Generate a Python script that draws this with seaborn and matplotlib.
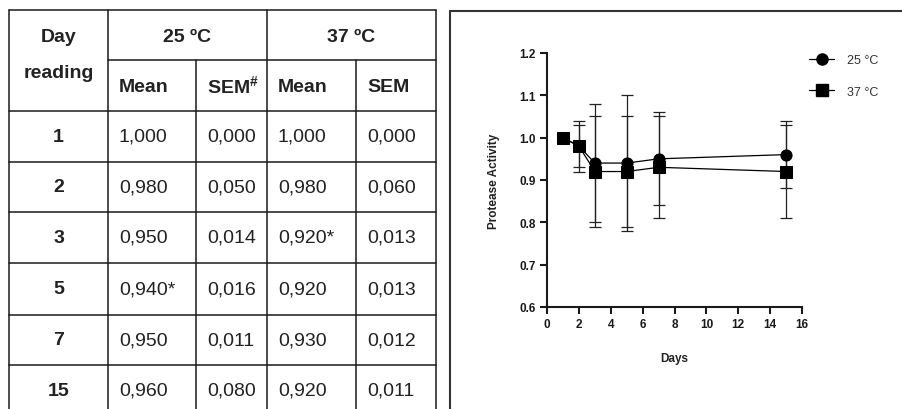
import pandas as pd
import matplotlib
matplotlib.use('Agg')
import matplotlib.pyplot as plt
import seaborn as sns
from matplotlib.lines import Line2D
from matplotlib.ticker import FormatStrFormatter

# Dias de leitura
days = [1, 2, 3, 5, 7, 15]

# Valores da tabela (como impressos)
mean_25 = [1.000, 0.980, 0.950, 0.940, 0.950, 0.960]
sem_25 = [0.000, 0.050, 0.014, 0.016, 0.011, 0.080]
mean_37 = [1.000, 0.980, 0.920, 0.920, 0.930, 0.920]
sem_37 = [0.000, 0.060, 0.013, 0.013, 0.012, 0.011]
star_25 = [False, False, False, True, False, False]
star_37 = [False, False, True, False, False, False]

# Valores do grafico (como plotados)
plot_25 = [1.00, 0.98, 0.94, 0.94, 0.95, 0.96]
plot_37 = [1.00, 0.98, 0.92, 0.92, 0.93, 0.92]
err_25 = [0.00, 0.05, 0.14, 0.16, 0.11, 0.08]
err_37 = [0.00, 0.06, 0.13, 0.13, 0.12, 0.11]

temps = ['25 °C', '37 °C']


def fmt(v, star=False):
    s = f"{v:.3f}".replace('.', ',')
    return s + '*' if star else s


sns.set_style('ticks')
plt.rcParams['font.family'] = ['Liberation Sans', 'DejaVu Sans']
plt.rcParams['mathtext.fontset'] = 'custom'
plt.rcParams['mathtext.rm'] = 'Liberation Sans'
plt.rcParams['mathtext.bf'] = 'Liberation Sans:bold'

fig = plt.figure(figsize=(9.03, 4.10), dpi=100)

# ---- Tabela (coordenadas em pixels) ----
tab = fig.add_axes([0, 0, 1, 1])
tab.set_xlim(0, 903)
tab.set_ylim(410, 0)
tab.axis('off')

col_x = [9, 108, 196, 267, 356, 436]
row_y = [11, 61, 112, 163, 213, 264, 316, 366]
lc = '#1a1a1a'

for i, x in enumerate(col_x):
    top = 61 if i in (2, 4) else 11
    tab.plot([x, x], [top, 410], color=lc, lw=1.1)
for j, y in enumerate(row_y):
    left = 108 if j == 1 else 9
    tab.plot([left, 436], [y, y], color=lc, lw=1.1)

tc = '#222222'
fs = 14
tab.text(58.5, 37, 'Day', ha='center', va='center', fontsize=fs, fontweight='bold', color=tc)
tab.text(58.5, 74, 'reading', ha='center', va='center', fontsize=fs, fontweight='bold', color=tc)
tab.text(187.5, 37, '25 ºC', ha='center', va='center', fontsize=fs, fontweight='bold', color=tc)
tab.text(351.5, 37, '37 ºC', ha='center', va='center', fontsize=fs, fontweight='bold', color=tc)
sub_heads = ['Mean', r'SEM$^{\mathbf{\#}}$', 'Mean', 'SEM']
for k, h in enumerate(sub_heads):
    tab.text(col_x[k + 1] + 11, 87, h, ha='left', va='center', fontsize=fs,
             fontweight='bold', color=tc)

for r, d in enumerate(days):
    yc = (row_y[r + 2] + (row_y[r + 3] if r + 3 < len(row_y) else 417)) / 2
    tab.text(58.5, yc, str(d), ha='center', va='center', fontsize=fs, fontweight='bold', color=tc)
    cells = [fmt(mean_25[r], star_25[r]), fmt(sem_25[r]),
             fmt(mean_37[r], star_37[r]), fmt(sem_37[r])]
    for k, c in enumerate(cells):
        tab.text(col_x[k + 1] + 11, yc, c, ha='left', va='center', fontsize=fs, color=tc)

# moldura do painel do grafico
tab.plot([450, 450], [12, 410], color='#333333', lw=1.5)
tab.plot([450, 903], [12, 12], color='#333333', lw=1.5)

# ---- Grafico ----
ax = fig.add_axes([0.6058, 0.2488, 0.2824, 0.6195])

df = pd.DataFrame({
    'day': days + days,
    'activity': plot_25 + plot_37,
    'temp': [temps[0]] * len(days) + [temps[1]] * len(days),
})

ax.errorbar(days, plot_25, yerr=err_25, fmt='none', ecolor='#222222',
            elinewidth=0.9, capsize=4.5, capthick=0.9, zorder=1)
ax.errorbar(days, plot_37, yerr=err_37, fmt='none', ecolor='#222222',
            elinewidth=0.9, capsize=4.5, capthick=0.9, zorder=1)

sns.lineplot(data=df, x='day', y='activity', style='temp',
             markers={temps[0]: 'o', temps[1]: 's'}, dashes=False,
             color='black', markersize=8, markeredgecolor='black',
             linewidth=0.9, legend=False, ax=ax, zorder=2)

ax.set_xlim(0, 16)
ax.set_ylim(0.6, 1.2)
ax.set_xticks(range(0, 17, 2))
ax.set_yticks([0.6, 0.7, 0.8, 0.9, 1.0, 1.1, 1.2])
ax.yaxis.set_major_formatter(FormatStrFormatter('%.1f'))

sns.despine(ax=ax)
for sp in ['left', 'bottom']:
    ax.spines[sp].set_linewidth(1.5)
    ax.spines[sp].set_color('#1a1a1a')
ax.tick_params(width=1.5, length=5, labelsize=8.5, colors='#1a1a1a', pad=3)
for lbl in ax.get_xticklabels() + ax.get_yticklabels():
    lbl.set_fontweight('bold')

ax.set_xlabel('Days', fontsize=8.5, fontweight='bold', color='#222222', labelpad=16)
ax.set_ylabel('Protease Activity', fontsize=8.5, fontweight='bold', color='#222222')
ax.yaxis.set_label_coords(-0.185, 0.5)

handles = [Line2D([0], [0], color='black', marker='o', lw=0.9, markersize=8),
           Line2D([0], [0], color='black', marker='s', lw=0.9, markersize=8)]
fig.legend(handles, temps, loc='upper left', bbox_to_anchor=(798 / 903, 1 - 44 / 410),
           frameon=False, handlelength=2.0, fontsize=9, labelcolor='#333333',
           handletextpad=1.0, labelspacing=1.55)

plt.savefig('out.png', dpi=100)
